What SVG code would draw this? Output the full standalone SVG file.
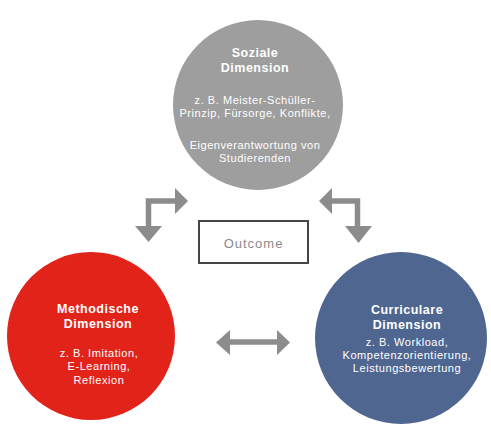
<svg xmlns="http://www.w3.org/2000/svg" width="491" height="427" viewBox="0 0 491 427">
<style>
.t{font-family:"Liberation Sans",Arial,sans-serif;fill:#fff;text-anchor:middle}
.h{font-size:12.5px;font-weight:bold;letter-spacing:0.5px}
.b{font-size:11px;letter-spacing:0.55px}
.arr{fill:none;stroke:#8c8c8c;stroke-width:5.5}
.hd{fill:#8c8c8c}
</style>
<rect width="491" height="427" fill="#fff"/>
<g id="soziale">
<circle cx="258" cy="105" r="85" fill="#9e9e9e"/>
<text class="t h" x="255" y="57">Soziale</text>
<text class="t h" x="255" y="72">Dimension</text>
<text class="t b" x="255" y="104">z. B. Meister-Schüller-</text>
<text class="t b" x="255" y="117">Prinzip, Fürsorge, Konflikte,</text>
<text class="t b" x="255" y="149">Eigenverantwortung von</text>
<text class="t b" x="255" y="162">Studierenden</text>
</g>
<g id="methodische">
<circle cx="91" cy="336" r="84" fill="#e2231a"/>
<text class="t h" x="98" y="313">Methodische</text>
<text class="t h" x="98" y="328">Dimension</text>
<text class="t b" x="99" y="357">z. B. Imitation,</text>
<text class="t b" x="99" y="370">E-Learning,</text>
<text class="t b" x="99" y="384">Reflexion</text>
</g>
<g id="curriculare">
<circle cx="401" cy="338" r="86" fill="#4f6690"/>
<text class="t h" x="407" y="314">Curriculare</text>
<text class="t h" x="407" y="329">Dimension</text>
<text class="t b" x="407" y="346">z. B. Workload,</text>
<text class="t b" x="407" y="359">Kompetenzorientierung,</text>
<text class="t b" x="407" y="372">Leistungsbewertung</text>
</g>
<g id="outcome">
<rect x="199" y="221" width="109" height="42" fill="#fff" stroke="#454545" stroke-width="2"/>
<text x="253.5" y="248" font-family="Liberation Sans, Arial, sans-serif" font-size="13" letter-spacing="1" fill="#8a8a8a" text-anchor="middle">Outcome</text>
</g>
<g id="connectors">
<path class="arr" d="M148.5 227 V201 H176"/>
<polygon class="hd" points="175,188 188,201 175,214"/>
<polygon class="hd" points="135,226 162,226 148.5,242"/>
<path class="arr" d="M331 201 H357.5 V227"/>
<polygon class="hd" points="332,188 319,201 332,214"/>
<polygon class="hd" points="345,226 372,226 358.5,243"/>
<path class="arr" d="M229 342 H277"/>
<polygon class="hd" points="230,330 216,342.5 230,355"/>
<polygon class="hd" points="277,330 290,342.5 277,355"/>
</g>
</svg>
